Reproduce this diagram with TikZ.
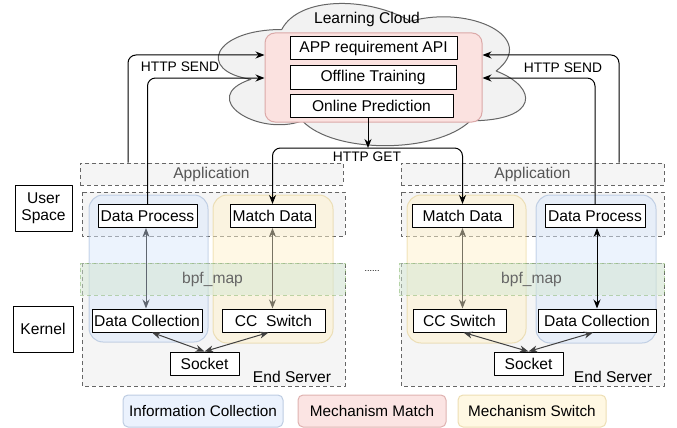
\documentclass[tikz,border=0pt]{standalone}
\usepackage{fontspec}
\setmainfont{Liberation Sans}
\usetikzlibrary{
  arrows.meta,
  positioning,
  backgrounds,
}
\tikzset{
  >={Stealth[width=7pt,length=9pt]},
  box/.style={draw, fill=white, line width=1pt, inner sep=1pt,
    minimum height=23pt, font=\fontsize{15.6}{17}\selectfont},
  dashbox/.style={draw=lc_line, fill=lc_bg, line width=1pt,
    dash pattern=on 4pt off 3pt},
  region/.style={rounded corners=14pt, line width=1pt},
  legend/.style={rounded corners=5pt, line width=1pt, minimum height=32pt,
    font=\fontsize{15.3}{17}\selectfont},
  link/.style={line width=1pt, rounded corners=8pt},
}
\definecolor{lc_cloud}{RGB}{242,242,242}
\definecolor{lc_bg}{RGB}{245,245,245}
\definecolor{lc_line}{RGB}{102,102,102}
\definecolor{lc_text}{RGB}{85,85,85}
\definecolor{lc_pink}{RGB}{248,206,204}
\definecolor{lc_pink_line}{RGB}{184,84,80}
\definecolor{lc_blue}{RGB}{218,232,252}
\definecolor{lc_blue_line}{RGB}{108,142,191}
\definecolor{lc_yellow}{RGB}{255,242,204}
\definecolor{lc_yellow_line}{RGB}{214,182,86}
\definecolor{lc_green}{RGB}{213,232,212}
\definecolor{lc_green_line}{RGB}{130,179,102}
\definecolor{lc_olive}{RGB}{120,115,99}
\definecolor{lc_slate}{RGB}{95,102,112}

\begin{document}
\begin{tikzpicture}[x=1pt, y=-1pt, line join=round]
    \useasboundingbox (0,0) rectangle (677,428);

    % the learning cloud
    \begin{scope}[shift={(196,-12)}, x=343pt, y=-166pt]
      \draw[fill=lc_cloud, draw=lc_line, line width=1pt] (0.25,0.25)
        .. controls (0.05,0.25) and (0,0.5) .. (0.16,0.55)
        .. controls (0,0.66) and (0.18,0.9) .. (0.31,0.8)
        .. controls (0.4,1) and (0.7,1) .. (0.8,0.8)
        .. controls (1,0.8) and (1,0.6) .. (0.875,0.5)
        .. controls (1,0.3) and (0.8,0.1) .. (0.625,0.2)
        .. controls (0.5,0.05) and (0.3,0.05) .. (0.25,0.25) -- cycle;
    \end{scope}
    \node[font=\fontsize{15.6}{17}\selectfont] (cloud) at (367,19) {Learning Cloud};

    % mechanism match inside the cloud
    \node[draw=lc_pink_line!50, fill=lc_pink!60, rounded corners=10pt, line width=1pt,
      minimum width=217pt, minimum height=89pt] (match) at (373.5,77.5) {};
    \node[box, minimum width=167pt] (api) at (373.5,48.5) {APP requirement API};
    \node[box, minimum width=166pt] (offline) at (373,77.5) {Offline Training};
    \node[box, minimum width=163pt] (online) at (371.5,105.5) {Online Prediction};

    % the two end servers
    \foreach \s/\xa/\xb in {L/82/345, R/401/664} {
      \draw[dashbox] (\xa,263) rectangle (\xb,386);
      \draw[dashbox] (\xa,192) rectangle (\xb,236);
    }
    \node[dashbox, text=lc_text, minimum width=263pt, minimum height=22pt,
      font=\fontsize{15.6}{17}\selectfont] (appL) at (211.5,174) {Application};
    \node[dashbox, text=lc_text, minimum width=263pt, minimum height=22pt,
      font=\fontsize{15.6}{17}\selectfont] (appR) at (532.5,174) {Application};
    \node[font=\fontsize{15.6}{17}\selectfont] (serverL) at (292,377) {End Server};
    \node[font=\fontsize{15.6}{17}\selectfont] (serverR) at (613,377) {End Server};

    % information collection and mechanism switch parts
    \draw[region, fill=lc_blue, fill opacity=0.5, draw=lc_blue_line, draw opacity=0.35]
      (89,195) rectangle (208,342);
    \draw[region, fill=lc_yellow, fill opacity=0.5, draw=lc_yellow_line, draw opacity=0.35]
      (213,195) rectangle (333,343);
    \draw[region, fill=lc_yellow, fill opacity=0.5, draw=lc_yellow_line, draw opacity=0.35]
      (407,195) rectangle (526,343);
    \draw[region, fill=lc_blue, fill opacity=0.5, draw=lc_blue_line, draw opacity=0.35]
      (536,195) rectangle (656,343);

    % bpf maps
    \node[draw=lc_green_line, draw opacity=0.5, fill=lc_green, fill opacity=0.5,
      text opacity=1, text=lc_line, line width=1pt, dash pattern=on 4pt off 3pt,
      minimum width=265pt, minimum height=32pt, font=\fontsize{15.6}{17}\selectfont]
      (mapL) at (212.5,279) {bpf\_map};
    \node[draw=lc_green_line, draw opacity=0.5, fill=lc_green, fill opacity=0.5,
      text opacity=1, text=lc_line, line width=1pt, dash pattern=on 4pt off 3pt,
      minimum width=265pt, minimum height=32pt, font=\fontsize{15.6}{17}\selectfont]
      (mapR) at (531.5,279) {bpf\_map};
    \node[font=\fontsize{9}{10}\selectfont] (dots) at (372,271) {......};

    % side labels
    \node[box, minimum width=57pt, minimum height=46pt, align=center] (user) at (43.5,208)
      {User\\Space};
    \node[box, minimum width=60pt, minimum height=46pt] (kernel) at (43,329) {Kernel};

    % left server boxes
    \node[box, minimum width=99pt] (dpL) at (147.5,216) {Data Process};
    \node[box, minimum width=85pt] (mdL) at (272.5,216) {Match Data};
    \node[box, minimum width=110pt] (dcL) at (147,320.5) {Data Collection};
    \node[box, minimum width=103pt] (ccL) at (273.5,320.5) {CC\ \ Switch};
    \node[box, minimum width=69pt] (sockL) at (204.5,363.5) {Socket};

    % right server boxes
    \node[box, minimum width=101pt] (mdR) at (462.5,216) {Match Data};
    \node[box, minimum width=100pt] (dpR) at (595,216) {Data Process};
    \node[box, minimum width=93pt] (ccR) at (459.5,320.5) {CC Switch};
    \node[box, minimum width=118pt] (dcR) at (597,320.5) {Data Collection};
    \node[box, minimum width=69pt] (sockR) at (528.5,363.5) {Socket};

    % links inside the servers
    \draw[<->, line width=1pt, lc_slate] (dpL.south -| 146,0) -- (dcL.north -| 146,0);
    \draw[<->, line width=1pt, lc_olive] (mdL) -- (mdL |- ccL.north);
    \draw[<->, line width=1pt, lc_olive] (mdR) -- (mdR |- ccR.north);
    \draw[<->, line width=1pt] (dpR.south -| 597,0) -- (dcR.north -| 597,0);
    \draw[<->, line width=1pt, black!75] ([xshift=5pt]dcL.south) -- (sockL.north);
    \draw[<->, line width=1pt, black!75] ([xshift=-5pt]ccL.south) -- (sockL.north);
    \draw[<->, line width=1pt, black!75] ([xshift=4pt]ccR.south) -- (sockR.north);
    \draw[<->, line width=1pt, black!75] ([xshift=-4pt]dcR.south) -- (sockR.north);

    % http send
    \coordinate (sendtop) at (0,55);
    \coordinate (sendlow) at (0,78);
    \draw[->, link] (appL.north -| 128,0) |- (match.west |- sendtop);
    \draw[->, link] (dpL.north) |- (match.west |- sendlow);
    \draw[->, link] (appR.north -| 619,0) |- (match.east |- sendtop);
    \draw[->, link] (dpR.north) |- (match.east |- sendlow);
    \node[font=\fontsize{13.8}{15}\selectfont] (sendL) at (180,67) {HTTP SEND};
    \node[font=\fontsize{13.8}{15}\selectfont] (sendR) at (563,68) {HTTP SEND};

    % http get
    \coordinate (get) at (368,148);
    \draw[->, line width=1pt] (online.south -| get) -- (get);
    \draw[->, link] (get) -| (mdL.north);
    \draw[->, link] (get) -| (mdR.north);
    \node[font=\fontsize{13.8}{15}\selectfont] (getlabel) at (367,157) {HTTP GET};

    % legend
    \node[legend, draw=lc_blue_line!45, fill=lc_blue!55, minimum width=160pt]
      (legC) at (203,411) {Information Collection};
    \node[legend, draw=lc_pink_line!45, fill=lc_pink!55, minimum width=148pt]
      (legM) at (372,411) {Mechanism Match};
    \node[legend, draw=lc_yellow_line!45, fill=lc_yellow!55, minimum width=148pt]
      (legS) at (532,411) {Mechanism Switch};
\end{tikzpicture}
\end{document}
